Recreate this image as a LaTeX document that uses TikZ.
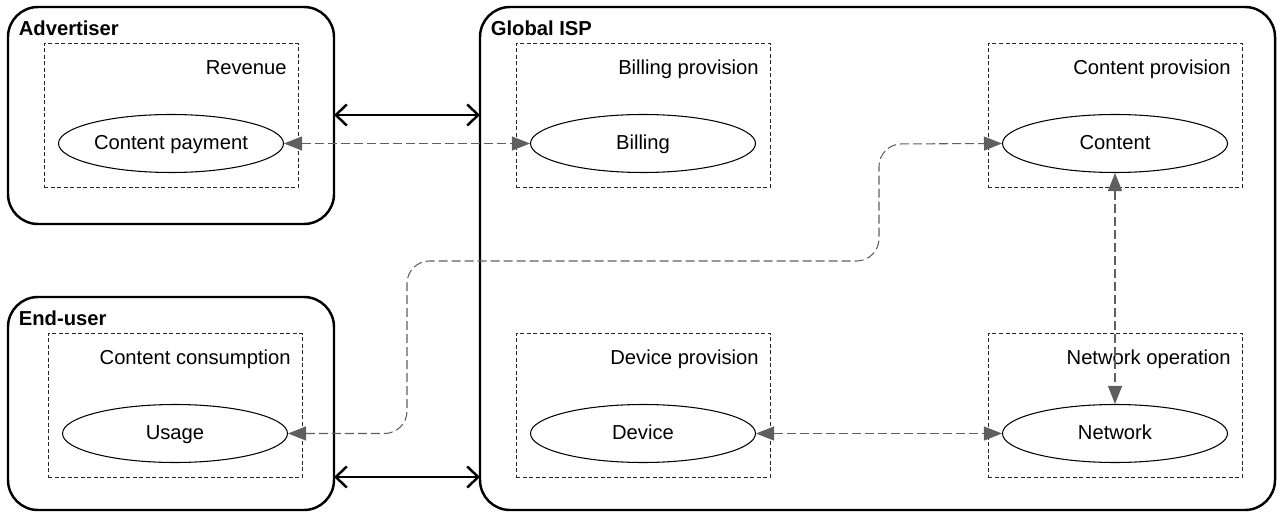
\documentclass[tikz,border=0pt]{standalone}
\usepackage{fontspec}
\setmainfont{Liberation Sans}
\usetikzlibrary{arrows.meta,shapes.geometric}
\definecolor{linkgray}{RGB}{95,95,95}

\begin{document}
\begin{tikzpicture}[font=\fontsize{11.5}{14}\selectfont,
        party/.style={draw, line width=1.4pt, rounded corners=0.6cm, outer sep=0pt, inner sep=0pt},
        partytitle/.style={anchor=base west, inner sep=0pt, font=\fontsize{11.5}{14}\selectfont\bfseries},
        area/.style={draw=black!85, line width=0.5pt, dash pattern=on 0.08cm off 0.05cm, outer sep=0pt, inner sep=0pt, minimum width=5.08cm, minimum height=2.88cm},
        areatitle/.style={anchor=base east, inner sep=0pt},
        task/.style={draw, ellipse, line width=0.6pt, minimum width=4.5cm, minimum height=1.16cm, inner sep=0pt, text height=1.6ex, text depth=0.4ex},
        link/.style={draw=linkgray, line width=0.6pt, dash pattern=on 0.18cm off 0.08cm, {Triangle[length=0.36cm,width=0.28cm]}-{Triangle[length=0.36cm,width=0.28cm]}},
        deal/.style={line width=1.4pt, {Straight Barb[length=0.22cm,width=0.42cm]}-{Straight Barb[length=0.22cm,width=0.42cm]}}]
        \useasboundingbox (0,0) rectangle (25.58,10.3);

        \node[party, minimum width=6.52cm, minimum height=4.34cm] (adv) at (3.42,7.99) {};
        \node[party, minimum width=6.52cm, minimum height=4.26cm] (user) at (3.42,2.23) {};
        \node[party, minimum width=15.9cm, minimum height=10.06cm] (isp) at (17.55,5.13) {};

        \foreach \n/\t in {adv/Advertiser, user/End-user, isp/Global ISP}
            \node[partytitle] (\n-title) at ([shift={(0.21,-0.57)}]\n.north west) {\t};

        \foreach \n/\x/\y/\t/\e in {rev/3.42/7.99/Revenue/Content payment, use/3.5/2.19/Content consumption/Usage, bill/12.86/7.99/Billing provision/Billing, cont/22.3/7.99/Content provision/Content, dev/12.86/2.19/Device provision/Device, net/22.3/2.19/Network operation/Network}
        {
            \node[area] (\n) at (\x,\y) {};
            \node[areatitle] (\n-title) at ([shift={(-0.22,-0.62)}]\n.north east) {\t};
            \node[task] (\n-task) at ([yshift=-0.56cm]\n.center) {\e};
        }

        \coordinate (bend1) at (8.14,5.08);
        \coordinate (bend2) at (17.58,7.42);

        \draw[deal] (adv.east |- 0,8) -- (isp.west |- 0,8);
        \draw[deal] (user.east |- 0,0.76) -- (isp.west |- 0,0.76);
        \draw[link] (rev-task) -- (bill-task);
        \draw[link] (dev-task) -- (net-task);
        \draw[link] (cont-task) -- (net-task);
        \draw[link, rounded corners=0.45cm] (use-task.east) -| (bend1) -| (bend2) -- (cont-task.west);
    \end{tikzpicture}
\end{document}
